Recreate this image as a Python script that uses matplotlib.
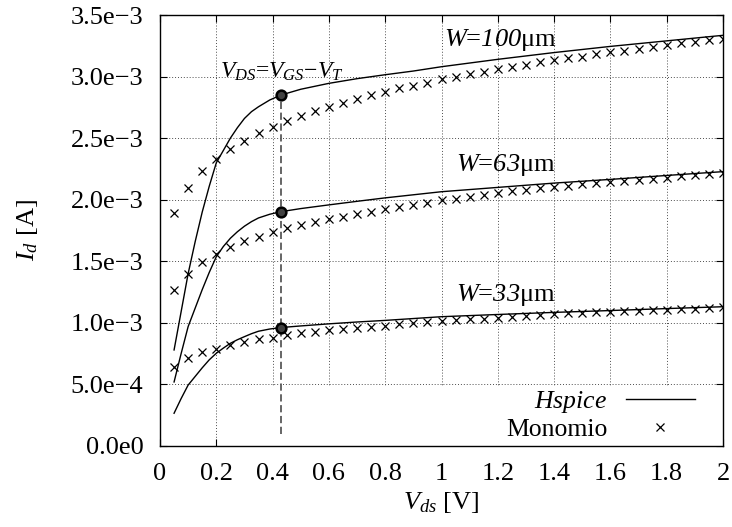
import numpy as np
import matplotlib
matplotlib.use("Agg")
import matplotlib.pyplot as plt
from matplotlib.patches import Rectangle

plt.rcParams['font.family'] = ['Liberation Serif', 'DejaVu Serif']
plt.rcParams['mathtext.fontset'] = 'custom'
plt.rcParams['mathtext.rm'] = 'Liberation Serif'
plt.rcParams['mathtext.it'] = 'Liberation Serif:italic'
plt.rcParams['mathtext.sf'] = 'Liberation Serif:italic'
plt.rcParams['mathtext.bf'] = 'Liberation Serif:bold'
plt.rcParams['axes.unicode_minus'] = True

# ---------------- data ----------------
# Hspice curves (A)
hs_x = [0.05, 0.075, 0.1, 0.125, 0.15, 0.175, 0.2, 0.225, 0.25, 0.275, 0.3, 0.325,
        0.35, 0.39, 0.43, 0.5, 0.6, 0.7, 0.8, 0.9, 1.0, 1.2, 1.4, 1.6, 1.8, 2.0]
hs_w100 = [0.78, 1.09, 1.40, 1.66, 1.90, 2.11, 2.30, 2.40, 2.50, 2.585, 2.66, 2.715,
           2.755, 2.81, 2.85, 2.897, 2.945, 2.983, 3.015, 3.045, 3.08, 3.14, 3.195,
           3.245, 3.29, 3.335]
hs_w63 = [0.52, 0.75, 0.97, 1.12, 1.27, 1.41, 1.537, 1.62, 1.687, 1.74, 1.785, 1.822,
          1.852, 1.882, 1.903, 1.928, 1.958, 1.987, 2.015, 2.04, 2.065, 2.10, 2.135,
          2.165, 2.197, 2.228]
hs_w33 = [0.266, 0.385, 0.495, 0.565, 0.635, 0.70, 0.753, 0.795, 0.834, 0.863, 0.888,
          0.912, 0.932, 0.95, 0.962, 0.975, 0.992, 1.007, 1.02, 1.035, 1.05, 1.068,
          1.085, 1.10, 1.116, 1.131]

# Monomio model points
mo_x = [0.05, 0.1, 0.15, 0.2, 0.25, 0.3, 0.35, 0.4, 0.45, 0.5,
        0.55, 0.6, 0.65, 0.7, 0.75, 0.8, 0.85, 0.9, 0.95, 1.0,
        1.05, 1.1, 1.15, 1.2, 1.25, 1.3, 1.35, 1.4, 1.45, 1.5,
        1.55, 1.6, 1.65, 1.7, 1.75, 1.8, 1.85, 1.9, 1.95, 2.0]
mo_w100 = [1.895, 2.098, 2.233, 2.33, 2.412, 2.477, 2.539, 2.587, 2.639, 2.68,
           2.718, 2.755, 2.788, 2.818, 2.85, 2.877, 2.905, 2.926, 2.95, 2.977,
           3.0, 3.021, 3.04, 3.062, 3.08, 3.094, 3.115, 3.133, 3.148, 3.162,
           3.18, 3.198, 3.21, 3.224, 3.237, 3.255, 3.272, 3.283, 3.297, 3.308]
mo_w63 = [1.267, 1.40, 1.497, 1.559, 1.619, 1.665, 1.70, 1.74, 1.768, 1.795,
          1.817, 1.843, 1.862, 1.881, 1.903, 1.925, 1.938, 1.957, 1.971, 1.995,
          2.006, 2.025, 2.038, 2.057, 2.071, 2.079, 2.093, 2.106, 2.114, 2.125,
          2.133, 2.146, 2.152, 2.160, 2.168, 2.179, 2.193, 2.201, 2.209, 2.215]
mo_w33 = [0.644, 0.712, 0.761, 0.788, 0.82, 0.842, 0.866, 0.879, 0.901, 0.915,
          0.928, 0.942, 0.95, 0.961, 0.969, 0.977, 0.988, 0.996, 1.004, 1.015,
          1.023, 1.029, 1.035, 1.040, 1.05, 1.056, 1.064, 1.069, 1.077, 1.083,
          1.088, 1.091, 1.096, 1.099, 1.104, 1.107, 1.110, 1.113, 1.118, 1.126]

# saturation points V_DS = V_GS - V_T
sat_x = 0.43
sat_y = [2.85, 1.903, 0.962]
sat_line_bottom = 0.1

scale = 1e-3

xticks = [0, 0.2, 0.4, 0.6, 0.8, 1.0, 1.2, 1.4, 1.6, 1.8, 2.0]
xtick_labels = ['0', '0.2', '0.4', '0.6', '0.8', '1', '1.2', '1.4', '1.6', '1.8', '2']
yticks = [0, 0.5, 1.0, 1.5, 2.0, 2.5, 3.0, 3.5]
ytick_labels = ['0.0e0', '5.0e\u22124', '1.0e\u22123', '1.5e\u22123', '2.0e\u22123',
                '2.5e\u22123', '3.0e\u22123', '3.5e\u22123']

labels_w = [r'$W$=$\mathsf{100}$μm', r'$W$=$\mathsf{63}$μm', r'$W$=$\mathsf{33}$μm']
label_pos = [(1.01, 3.30), (1.05, 2.28), (1.05, 1.225)]

# ---------------- figure ----------------
fig = plt.figure(figsize=(7.32, 5.27), dpi=100)
ax = fig.add_axes([160/732, (527-446)/527, (723-160)/732, (446-15)/527])

xs = np.array(hs_x)
mx = np.array(mo_x)
for i, hs in enumerate([hs_w100, hs_w63, hs_w33]):
    ax.plot(xs, np.array(hs)*scale, color='black', lw=1.0, zorder=4,
            label=r'$Hspice$' if i == 0 else None)
for i, mo in enumerate([mo_w100, mo_w63, mo_w33]):
    ax.plot(mx, np.array(mo)*scale, ls='none', marker='x', ms=5.5, mew=0.9,
            color='black', zorder=4, label='Monomio' if i == 0 else None)

# dashed saturation line and points
ax.plot([sat_x, sat_x], [sat_line_bottom*scale, max(sat_y)*scale], color='0.35',
        ls=(0, (4, 2)), lw=1.3, zorder=3)
ax.plot([sat_x]*len(sat_y), np.array(sat_y)*scale, ls='none', marker='o', ms=7,
        mfc='0.25', mec='black', mew=1.8, zorder=5)

ax.set_xlim(0, 2)
ax.set_ylim(0, 3.5e-3)
ax.set_xticks(xticks)
ax.set_xticklabels(xtick_labels)
ax.set_yticks(np.array(yticks)*scale)
ax.set_yticklabels(ytick_labels)

# manual grid (gnuplot style)
for xv in xticks[1:-1]:
    ax.plot([xv, xv], [0, 3.5e-3], color='0.3', ls=(0, (1, 2)), lw=0.7, zorder=1)
for yv in yticks[1:-1]:
    ax.plot([0, 2], [yv*scale, yv*scale], color='0.3', ls=(0, (1, 2)), lw=0.7, zorder=1)
# opaque key area
ax.add_patch(Rectangle((0.3, 0), 1.7, 0.487e-3, facecolor='white', edgecolor='none', zorder=2))

ax.tick_params(direction='in', top=True, right=True, length=5, width=0.8,
               labelsize=19, pad=12)
for sp in ax.spines.values():
    sp.set_linewidth(1.0)
    sp.set_zorder(6)

ax.set_xlabel(r'$V_{ds}$ [V]', fontsize=19, labelpad=4)
ax.set_ylabel(r'$I_d$ [A]', fontsize=19, labelpad=22)

for txt, (lx, ly) in zip(labels_w, label_pos):
    ax.text(lx, ly*scale, txt, fontsize=19, ha='left', va='center', zorder=7)
ax.text(0.213, 3.04e-3, r'$V_{DS}$=$V_{GS}$−$V_T$', fontsize=17, ha='left',
        va='center', zorder=7)

leg = ax.legend(loc='lower right', bbox_to_anchor=((695-160)/563, (446-441)/431),
                frameon=False, markerfirst=False, fontsize=18.5, handlelength=2.7,
                handletextpad=0.7, borderpad=0, borderaxespad=0, labelspacing=0.1)
leg.set_zorder(7)

fig.savefig('out.png', dpi=100)
